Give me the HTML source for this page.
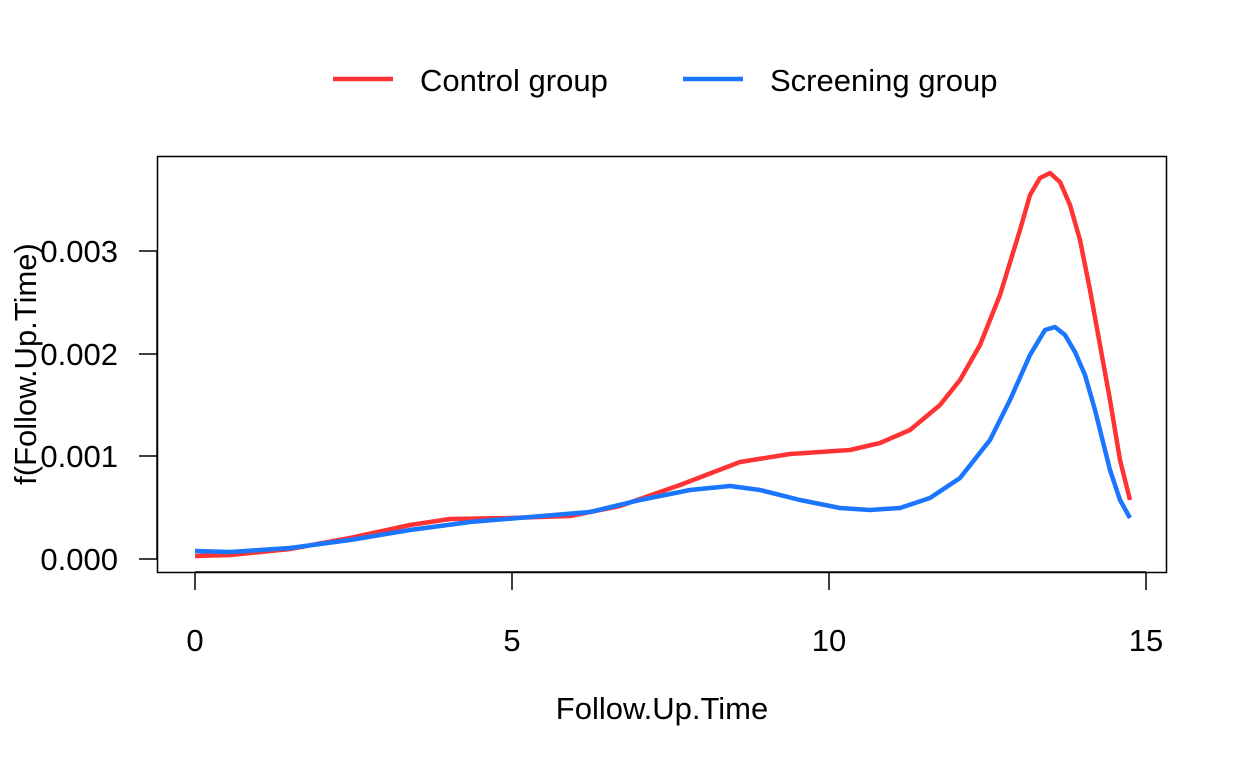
<!DOCTYPE html>
<html><head><style>body{margin:0;background:#fff}svg{display:block}text{font-family:"Liberation Sans",Arial,sans-serif;fill:#000}</style></head>
<body>
<svg width="1248" height="768" viewBox="0 0 1248 768" xmlns="http://www.w3.org/2000/svg">
<line x1="333" y1="79" x2="393" y2="79" stroke="#ff3333" stroke-width="4.5"/>
<text x="420" y="91" font-size="31">Control group</text>
<line x1="683" y1="79" x2="743" y2="79" stroke="#1a75ff" stroke-width="4.5"/>
<text x="770" y="91" font-size="31">Screening group</text>
<rect x="157.5" y="156.5" width="1009" height="416" fill="none" stroke="#000" stroke-width="1.5"/>
<g stroke="#000" stroke-width="1.5">
<line x1="195" y1="572" x2="1146" y2="572"/>
<line x1="195" y1="572" x2="195" y2="590"/><line x1="512" y1="572" x2="512" y2="590"/><line x1="829" y1="572" x2="829" y2="590"/><line x1="1146" y1="572" x2="1146" y2="590"/>
<line x1="157" y1="251" x2="157" y2="559"/>
<line x1="139" y1="559" x2="157" y2="559"/><line x1="139" y1="456" x2="157" y2="456"/><line x1="139" y1="354" x2="157" y2="354"/><line x1="139" y1="251" x2="157" y2="251"/>
</g>
<g font-size="31" text-anchor="middle">
<text x="195" y="651">0</text><text x="512" y="651">5</text><text x="829" y="651">10</text><text x="1146" y="651">15</text>
<text x="662" y="719">Follow.Up.Time</text>
</g>
<g font-size="31" text-anchor="end">
<text x="118" y="570">0.000</text><text x="118" y="467">0.001</text><text x="118" y="365">0.002</text><text x="118" y="262">0.003</text>
</g>
<text font-size="31" text-anchor="middle" transform="translate(36,364) rotate(-90)">f(Follow.Up.Time)</text>
<polyline fill="none" stroke="#ff3333" stroke-width="4.5" stroke-linejoin="round" points="195,556 230,555 290,549 350,538 410,525 450,519 510,518 570,516 620,506 680,485 740,462 790,454 850,450 880,443 910,430 940,405 960,380 980,345 1000,295 1020,230 1030,195 1040,178 1050,173 1060,182 1070,205 1080,240 1090,290 1100,345 1110,400 1120,460 1130,500"/>
<polyline fill="none" stroke="#1a75ff" stroke-width="4.5" stroke-linejoin="round" points="195,551 230,552 290,548 350,540 410,530 470,522 530,517 590,512 640,500 690,490 730,486 760,490 800,500 840,508 870,510 900,508 930,498 960,478 990,440 1010,400 1030,355 1045,330 1055,327 1065,335 1075,352 1085,375 1095,410 1110,470 1120,500 1130,518"/>
</svg>
</body></html>
